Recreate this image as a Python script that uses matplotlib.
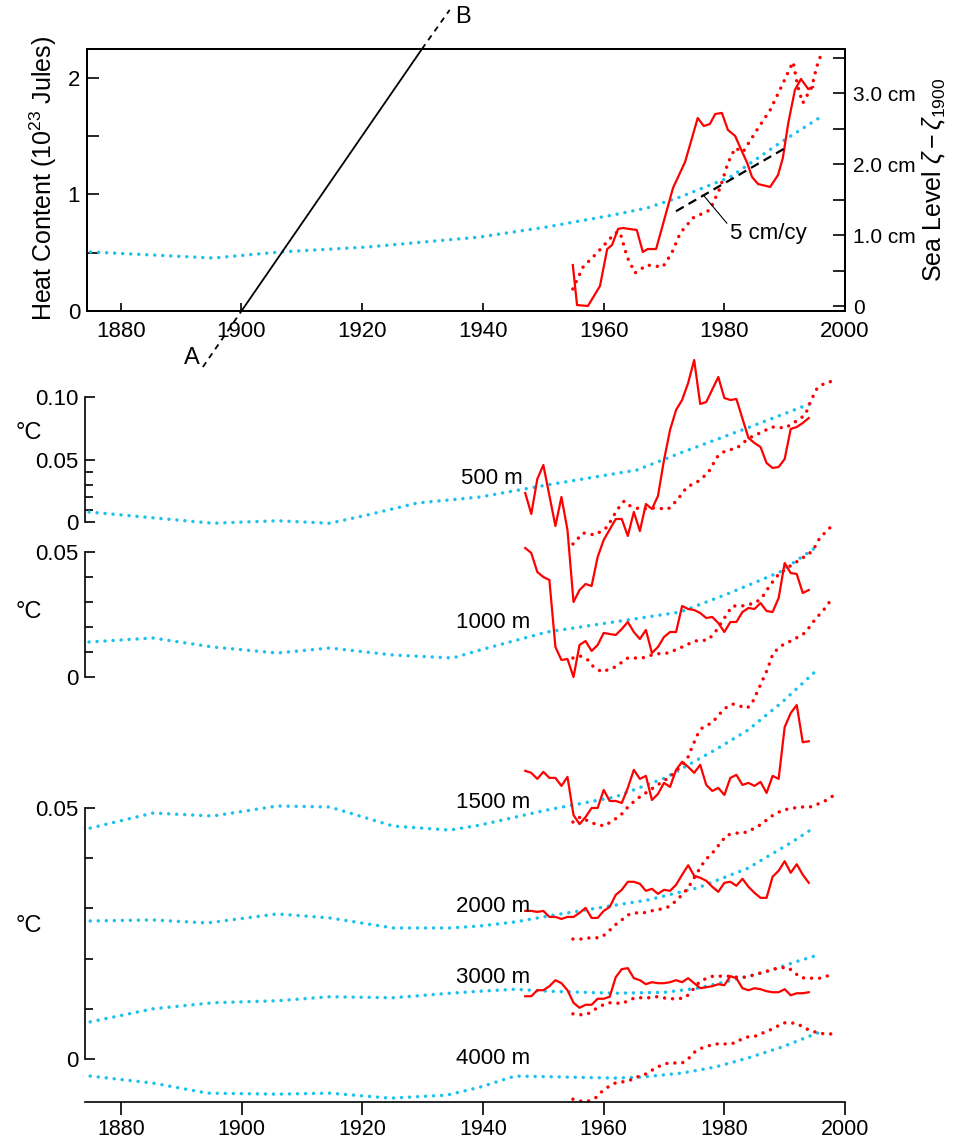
import matplotlib
matplotlib.use("Agg")
import matplotlib.pyplot as plt

plt.rcParams['font.family'] = ['Liberation Sans', 'DejaVu Sans']
plt.rcParams['mathtext.fontset'] = 'custom'
plt.rcParams['mathtext.rm'] = 'Liberation Sans'
plt.rcParams['mathtext.it'] = 'Liberation Sans:italic'
plt.rcParams['mathtext.sf'] = 'Liberation Sans'

RED = '#ff0000'
CYAN = '#19c1ef'

# top panel: heat content (10^23 J)
hc_model_yr = [1875.0, 1895.3, 1906.4, 1920.8, 1939.5, 1950.6, 1961.6, 1967.2, 1972.7, 1981.0, 1989.2, 1996.2]
hc_model = [0.506, 0.454, 0.506, 0.548, 0.634, 0.72, 0.823, 0.883, 0.977, 1.148, 1.44, 1.67]

hc_obs_yr = [1954.9, 1955.6, 1957.4, 1959.4, 1960.6, 1961.4, 1962.4, 1963.2, 1965.5, 1966.5,
             1967.3, 1968.7, 1971.5, 1973.5, 1975.6, 1976.6, 1977.6, 1978.5, 1979.6, 1980.6,
             1981.8, 1982.6, 1983.8, 1984.6, 1985.6, 1987.6, 1988.9, 1989.7, 1990.6, 1991.7,
             1992.7, 1993.9, 1994.7]
hc_obs = [0.394, 0.051, 0.043, 0.214, 0.531, 0.566, 0.703, 0.711, 0.694, 0.506,
          0.531, 0.531, 1.054, 1.277, 1.654, 1.585, 1.602, 1.688, 1.697, 1.551,
          1.5, 1.405, 1.268, 1.148, 1.088, 1.063, 1.165, 1.311, 1.611, 1.894,
          1.988, 1.902, 1.919]

hc_dot_yr = [1954.9, 1956.6, 1958.9, 1961.9, 1962.7, 1963.9, 1965.2, 1967.2, 1969.8, 1971.3,
             1972.7, 1974.8, 1977.6, 1979.3, 1980.6, 1981.8, 1983.1, 1985.4, 1987.6, 1989.6,
             1990.9, 1991.4, 1992.2, 1993.0, 1994.5, 1995.3, 1996.3]
hc_dot = [0.189, 0.377, 0.497, 0.668, 0.677, 0.463, 0.326, 0.394, 0.377, 0.497,
          0.668, 0.797, 0.865, 1.054, 1.268, 1.397, 1.362, 1.551, 1.722, 1.937,
          2.082, 2.134, 1.919, 1.782, 1.919, 2.091, 2.237]

# sea level trend (cm) and the A-B line (heat units)
trend_yr = [1972.0, 1990.1]
trend_cm = [1.34, 2.23]
ab_yr = [1893.6, 1900.0, 1929.9, 1934.5]
ab_val = [-0.48, 0.0, 2.245, 2.58]

# lower panels: temperature change (deg C)
obs_yr = list(range(1947, 1995))

c500_yr = [1874.7, 1895.2, 1905.9, 1914.6, 1920.8, 1929.1, 1939.5, 1950.6, 1965.5, 1972.7, 1983.8, 1995.0]
c500 = [0.008, -0.001, 0.001, -0.001, 0.0056, 0.0152, 0.02, 0.0296, 0.0416, 0.0552, 0.0752, 0.096]
o500_yr = [1947, 1948, 1949, 1950, 1952, 1953, 1954, 1955, 1956, 1957, 1958, 1959, 1960,
           1962, 1963, 1964, 1965, 1966, 1967, 1968, 1969, 1970, 1971, 1972, 1973, 1974,
           1975, 1976, 1977, 1979, 1980, 1981, 1982, 1984, 1985, 1986, 1987, 1988, 1989,
           1990, 1991, 1992, 1993, 1994]
o500 = [0.0232, 0.0064, 0.0344, 0.0456, -0.0032, 0.02, -0.0064, -0.064, -0.0544, -0.0496,
        -0.0512, -0.028, -0.0144, 0.0024, 0.0024, -0.0112, 0.008, -0.0072, 0.0144, 0.0104,
        0.0208, 0.0496, 0.0736, 0.0896, 0.0976, 0.1112, 0.1296, 0.0944, 0.096, 0.116,
        0.0992, 0.0976, 0.0984, 0.0672, 0.0632, 0.06, 0.0472, 0.0432, 0.044, 0.0504,
        0.0744, 0.076, 0.0792, 0.0832]
d500_yr = [1954.9, 1956.6, 1958.6, 1960.6, 1962.2, 1963.4, 1964.4, 1966.0, 1968.2, 1970.7,
           1972.2, 1973.8, 1975.5, 1977.3, 1978.8, 1980.1, 1982.1, 1984.1, 1985.9, 1987.9,
           1990.1, 1991.7, 1993.4, 1994.4, 1995.4, 1996.7, 1998.0]
d500 = [-0.0176, -0.0088, -0.0104, -0.004, 0.0096, 0.0168, 0.0128, 0.0104, 0.0112, 0.0104,
        0.0176, 0.028, 0.032, 0.0392, 0.052, 0.0568, 0.0592, 0.0672, 0.0712, 0.076,
        0.0752, 0.08, 0.0856, 0.0976, 0.1072, 0.1112, 0.1128]

c1000_yr = [1874.7, 1885.3, 1895.2, 1905.9, 1914.6, 1925.1, 1935.0, 1939.5, 1950.6, 1963.9,
            1972.7, 1980.9, 1989.2, 1995.0]
c1000 = [0.014, 0.0156, 0.012, 0.0096, 0.0116, 0.0088, 0.0076, 0.0108, 0.018, 0.0228,
         0.026, 0.0336, 0.042, 0.0516]
o1000_yr = [1947, 1948, 1949, 1950, 1951, 1952, 1953, 1954, 1955, 1956, 1957, 1958, 1959, 1960,
            1962, 1963, 1964, 1965, 1966, 1967, 1968, 1969, 1970, 1971, 1972, 1973, 1974,
            1975, 1976, 1977, 1978, 1979, 1980, 1981, 1982, 1983, 1984, 1985, 1986, 1987,
            1988, 1989, 1990, 1991, 1992, 1993, 1994]
o1000 = [0.0516, 0.0496, 0.042, 0.04, 0.0388, 0.012, 0.0068, 0.0072, 0.0, 0.0128,
         0.0144, 0.0104, 0.0128, 0.0176, 0.0168, 0.0192, 0.022, 0.018, 0.0152, 0.0188,
         0.0096, 0.012, 0.016, 0.018, 0.018, 0.0284, 0.0272, 0.0268, 0.0256, 0.0236,
         0.024, 0.0216, 0.018, 0.022, 0.022, 0.026, 0.0276, 0.0272, 0.0296, 0.0264,
         0.026, 0.0316, 0.0456, 0.0416, 0.0412, 0.0336, 0.0348]
d1000_yr = [1954.9, 1956.1, 1957.4, 1958.2, 1959.7, 1961.9, 1964.0, 1966.4, 1968.5, 1970.7,
            1973.0, 1975.1, 1977.3, 1978.5, 1979.8, 1981.3, 1982.9, 1985.1, 1986.2, 1987.6,
            1988.9, 1990.4, 1991.7, 1992.9, 1993.9, 1995.0, 1995.9, 1997.2, 1998.0]
d1000 = [0.0076, 0.0084, 0.0068, 0.0044, 0.002, 0.004, 0.0076, 0.0076, 0.0092, 0.0096,
         0.012, 0.0144, 0.0148, 0.018, 0.0228, 0.0284, 0.0284, 0.0296, 0.0316, 0.0368,
         0.0408, 0.0436, 0.0456, 0.0476, 0.0488, 0.052, 0.056, 0.0588, 0.0612]

c1500_yr = [1874.9, 1885.3, 1895.2, 1905.9, 1914.6, 1925.1, 1934.5, 1939.5, 1950.6, 1961.9,
            1970.2, 1978.5, 1983.9, 1989.6, 1995.0]
c1500 = [0.046, 0.049, 0.0484, 0.0504, 0.0502, 0.0464, 0.0456, 0.0466, 0.0496, 0.0522,
         0.056, 0.0616, 0.0655, 0.0711, 0.0771]
o1500 = [0.0574, 0.057, 0.0558, 0.0572, 0.056, 0.056, 0.0544, 0.0562,
         0.0486, 0.0468, 0.0482, 0.05, 0.05, 0.0536, 0.0514, 0.0514, 0.051, 0.054,
         0.0576, 0.0558, 0.0564, 0.0516, 0.0528, 0.055, 0.0542, 0.0576, 0.0592, 0.0582,
         0.057, 0.0586, 0.0546, 0.0534, 0.054, 0.0526, 0.056, 0.0566, 0.0546, 0.055,
         0.0544, 0.0552, 0.053, 0.0564, 0.0558, 0.0661, 0.0689, 0.0705, 0.0631, 0.0633]
d1500_yr = [1954.9, 1956.1, 1958.1, 1960.1, 1961.9, 1963.2, 1964.0, 1965.5, 1967.7, 1969.7,
            1971.0, 1972.2, 1973.8, 1974.6, 1975.5, 1976.3, 1978.1, 1979.0, 1980.4, 1981.4,
            1982.6, 1983.8, 1984.6, 1985.6, 1987.1, 1988.1, 1989.7, 1991.4, 1993.4, 1995.0,
            1996.7, 1998.0]
d1500 = [0.0472, 0.0482, 0.047, 0.0464, 0.0478, 0.049, 0.0502, 0.0518, 0.0536, 0.0552,
         0.0562, 0.0576, 0.0596, 0.062, 0.0645, 0.0659, 0.0671, 0.0685, 0.0701, 0.0707,
         0.0703, 0.0699, 0.0709, 0.0735, 0.0775, 0.0809, 0.0825, 0.0835, 0.0849, 0.0875,
         0.0898, 0.092]

c2000_yr = [1874.9, 1885.3, 1894.3, 1905.9, 1914.6, 1925.1, 1934.5, 1939.5, 1945.3, 1951.9,
            1959.1, 1967.4, 1975.6, 1983.9, 1991.2, 1995.0]
c2000 = [0.0275, 0.0277, 0.0271, 0.0289, 0.0281, 0.0261, 0.0261, 0.0265, 0.0273, 0.0287,
         0.0301, 0.0317, 0.0341, 0.038, 0.0432, 0.0462]
o2000 = [0.0295, 0.0295, 0.0293, 0.0295, 0.0283, 0.0283, 0.0279, 0.0283,
         0.0283, 0.0291, 0.0301, 0.0281, 0.0281, 0.0295, 0.0303, 0.0327, 0.0337, 0.0353,
         0.0353, 0.0349, 0.0335, 0.0339, 0.0329, 0.0337, 0.0335, 0.0347, 0.0367, 0.0386,
         0.0365, 0.0361, 0.0355, 0.0343, 0.0333, 0.0351, 0.0353, 0.0345, 0.0359, 0.0343,
         0.0331, 0.0321, 0.0321, 0.0363, 0.0375, 0.0394, 0.0371, 0.0388, 0.0367, 0.0351]
d2000_yr = [1954.9, 1956.4, 1957.4, 1958.6, 1959.7, 1960.7, 1961.9, 1963.0, 1964.0, 1965.2,
            1966.5, 1967.4, 1968.5, 1969.7, 1970.7, 1971.8, 1973.0, 1974.0, 1974.8, 1975.6,
            1976.8, 1978.0, 1978.8, 1980.4, 1982.1, 1983.8, 1985.9, 1988.1, 1989.7, 1992.5,
            1994.2, 1996.4, 1998.0]
d2000 = [0.0239, 0.0239, 0.0241, 0.0241, 0.0243, 0.0253, 0.0267, 0.0277, 0.0287, 0.0291,
         0.0291, 0.0293, 0.0297, 0.0299, 0.0303, 0.0313, 0.0327, 0.0341, 0.0357, 0.0373,
         0.0396, 0.041, 0.0422, 0.0446, 0.045, 0.0452, 0.0466, 0.0486, 0.0496, 0.0502,
         0.0502, 0.0512, 0.0524]

c3000_yr = [1874.9, 1885.3, 1895.2, 1905.9, 1914.6, 1925.1, 1934.5, 1939.5, 1945.3, 1950.8,
            1961.9, 1970.2, 1975.6, 1981.3, 1986.7, 1992.2, 1995.5]
c3000 = [0.0074, 0.01, 0.0112, 0.0116, 0.0124, 0.0122, 0.0131, 0.0135, 0.0139, 0.0135,
         0.0131, 0.0133, 0.0141, 0.0157, 0.0173, 0.0195, 0.0207]
o3000 = [0.0125, 0.0125, 0.0137, 0.0137, 0.0145, 0.0157, 0.0151, 0.0137,
         0.0112, 0.0102, 0.0108, 0.0108, 0.012, 0.012, 0.0124, 0.0163, 0.0179, 0.0181,
         0.0161, 0.0157, 0.0149, 0.0153, 0.0151, 0.0151, 0.0153, 0.0157, 0.0153, 0.0161,
         0.0151, 0.0141, 0.0143, 0.0145, 0.0149, 0.0147, 0.0165, 0.0161, 0.0141, 0.0137,
         0.0141, 0.0139, 0.0135, 0.0133, 0.0133, 0.0139, 0.0127, 0.0131, 0.0131, 0.0133]
d3000_yr = [1954.9, 1956.1, 1957.4, 1958.4, 1959.6, 1960.7, 1961.9, 1963.0, 1964.0, 1965.2,
            1966.4, 1967.7, 1968.8, 1969.8, 1971.0, 1972.3, 1973.5, 1974.3, 1975.1, 1976.0,
            1977.1, 1978.1, 1979.3, 1980.6, 1982.1, 1983.4, 1984.8, 1985.9, 1987.1, 1988.1,
            1989.2, 1990.4, 1991.4, 1992.5, 1993.4, 1994.5, 1995.9, 1997.0, 1998.0]
d3000 = [0.009, 0.0088, 0.009, 0.0098, 0.0106, 0.0112, 0.0112, 0.011, 0.0116, 0.0122,
         0.0122, 0.0122, 0.0124, 0.0122, 0.012, 0.012, 0.0122, 0.0131, 0.0143, 0.0155,
         0.0161, 0.0165, 0.0165, 0.0165, 0.0163, 0.0163, 0.0167, 0.0171, 0.0175, 0.0179,
         0.0181, 0.0183, 0.0175, 0.0163, 0.0161, 0.0161, 0.0161, 0.0165, 0.0173]

c4000_yr = [1874.9, 1885.3, 1894.3, 1905.9, 1914.6, 1924.6, 1934.0, 1939.5, 1945.3, 1953.6,
            1961.9, 1966.4, 1973.0, 1978.5, 1983.9, 1989.6, 1995.5]
c4000 = [-0.0034, -0.0048, -0.0068, -0.007, -0.0068, -0.0078, -0.0072, -0.0056, -0.0034, -0.0036,
         -0.0038, -0.0036, -0.0028, -0.0016, 0.0002, 0.0024, 0.0052]
d4000_yr = [1954.9, 1956.1, 1957.4, 1958.6, 1959.6, 1960.7, 1961.9, 1963.0, 1964.4, 1965.5,
            1966.5, 1967.4, 1968.5, 1969.7, 1970.7, 1971.8, 1973.0, 1974.0, 1975.1, 1976.3,
            1977.3, 1978.5, 1979.7, 1980.6, 1981.8, 1982.9, 1983.9, 1985.3, 1986.4, 1987.6,
            1988.9, 1989.9, 1991.1, 1992.2, 1993.2, 1994.5, 1995.5, 1996.7, 1998.0]
d4000 = [-0.008, -0.0084, -0.0084, -0.0078, -0.0066, -0.0056, -0.0048, -0.0046, -0.0042, -0.0036,
         -0.0032, -0.0028, -0.0018, -0.0012, -0.0008, -0.0008, -0.0008, 0.0, 0.0014, 0.0022,
         0.0026, 0.003, 0.003, 0.003, 0.0032, 0.004, 0.0044, 0.0046, 0.0052, 0.0058,
         0.0066, 0.0072, 0.0072, 0.007, 0.0062, 0.0056, 0.0052, 0.005, 0.005]

years = [1880, 1900, 1920, 1940, 1960, 1980, 2000]

# figure in pixel layout
W, H = 956, 1142
fig = plt.figure(figsize=(W / 100, H / 100), dpi=100)


def box(l, t, r, b):
    return [l / W, 1 - b / H, (r - l) / W, (b - t) / H]


dot = dict(ls=(0, (0.01, 2.3)), lw=2.5, dash_capstyle='round')
FS = 16

#Top panel
ax = fig.add_axes(box(87, 49, 845, 311))
ax.set_xlim(1874.4, 2000)
ax.set_ylim(0, 2.245)
ax.plot(hc_model_yr, hc_model, color=CYAN, **dot)
ax.plot(hc_dot_yr, hc_dot, color=RED, **dot)
ax.plot(hc_obs_yr, hc_obs, color=RED, lw=1.6)
ax.plot(ab_yr[:2], ab_val[:2], color='k', lw=1.3, ls=(0, (3.2, 2.8)), clip_on=False)
ax.plot(ab_yr[1:3], ab_val[1:3], color='k', lw=1.3)
ax.plot(ab_yr[2:], ab_val[2:], color='k', lw=1.3, ls=(0, (3.2, 2.8)), clip_on=False)
ax.text(1891.8, -0.40, 'A', fontsize=FS + 1, ha='center', va='center', clip_on=False)
ax.text(1936.7, 2.52, 'B', fontsize=FS + 1, ha='center', va='center', clip_on=False)

ax.set_xticks(years)
ax.set_yticks([0, 0.5, 1, 1.5, 2], ['0', '', '1', '', '2'])
ax.tick_params(axis='y', direction='in', length=8.5, width=1.2, labelsize=FS, pad=5)
ax.tick_params(axis='x', direction='in', length=5.5, width=1.2, labelsize=FS, pad=7)

ax2 = ax.twinx()
ax2.set_ylim(-0.065, 3.625)
ax2.plot(trend_yr, trend_cm, color='k', lw=1.6, ls=(0, (4, 2.5)))
ax2.annotate('5 cm/cy', xy=(1976.5, 1.57), xytext=(1980.9, 1.02), ha='left', va='center',
             fontsize=FS,
             arrowprops=dict(arrowstyle='-', lw=0.8, color='k', shrinkA=0, shrinkB=0,
                             relpos=(0, 0.85)))
ax2.set_yticks([0, 0.5, 1, 1.5, 2, 2.5, 3, 3.5],
               ['0', '', '1.0 cm', '', '2.0 cm', '', '3.0 cm', ''])
ax2.tick_params(axis='y', direction='in', length=8.5, width=1.2, labelsize=15, pad=5.5)
for a in (ax, ax2):
    for s in a.spines.values():
        s.set_linewidth(1.4)

fig.text(43 / W, 1 - 179 / H, r'Heat Content (10$^{23}$ Jules)', fontsize=18,
         rotation=90, ha='center', va='center')
fig.text(934 / W, 1 - 180 / H, r'Sea Level $\zeta - \zeta_{1900}$', fontsize=18,
         rotation=90, ha='center', va='center')

#Lower panels, overlaid axes with their own scales
BOT = box(85, 355, 845, 1102)


def depth_axes(zero_px, px_per_deg, top):
    a = fig.add_axes(BOT)
    a.patch.set_visible(False)
    a.set_xlim(1874.03, 2000)
    a.set_ylim((zero_px - 1102) / px_per_deg, (zero_px - 355) / px_per_deg)
    for s in ['top', 'right', 'bottom']:
        a.spines[s].set_visible(False)
    a.spines['left'].set_bounds(0, top)
    a.spines['left'].set_linewidth(1.2)
    a.tick_params(axis='x', bottom=False, labelbottom=False)
    a.set_yticks([0.01, 0.02, 0.03, 0.04], minor=True)
    a.tick_params(axis='y', which='major', direction='in', length=7.5, width=1.2,
                  labelsize=FS, pad=4.5)
    a.tick_params(axis='y', which='minor', direction='in', length=5.5, width=1.2)
    return a


a500 = depth_axes(522, 1250, 0.10)
a500.set_yticks([0, 0.05, 0.10], ['0', '0.05', '0.10'])
a500.plot(c500_yr, c500, color=CYAN, **dot)
a500.plot(d500_yr, d500, color=RED, **dot)
a500.plot(o500_yr, o500, color=RED, lw=1.6)
a500.text(1946.6, 0.0352, '500 m', fontsize=FS, ha='right', va='center')

a1000 = depth_axes(677, 2500, 0.05)
a1000.set_yticks([0, 0.05], ['0', '0.05'])
a1000.plot(c1000_yr, c1000, color=CYAN, **dot)
a1000.plot(d1000_yr, d1000, color=RED, **dot)
a1000.plot(o1000_yr, o1000, color=RED, lw=1.6)
a1000.text(1947.8, 0.0216, '1000 m', fontsize=FS, ha='right', va='center')

adeep = depth_axes(1059, 5020, 0.05)
adeep.set_yticks([0, 0.05], ['0', '0.05'])
adeep.plot(c1500_yr, c1500, color=CYAN, **dot)
adeep.plot(d1500_yr, d1500, color=RED, **dot)
adeep.plot(obs_yr, o1500, color=RED, lw=1.6)
adeep.plot(c2000_yr, c2000, color=CYAN, **dot)
adeep.plot(d2000_yr, d2000, color=RED, **dot)
adeep.plot(obs_yr, o2000, color=RED, lw=1.6)
adeep.plot(c3000_yr, c3000, color=CYAN, **dot)
adeep.plot(d3000_yr, d3000, color=RED, **dot)
adeep.plot(obs_yr, o3000, color=RED, lw=1.6)
adeep.plot(c4000_yr, c4000, color=CYAN, **dot)
adeep.plot(d4000_yr, d4000, color=RED, **dot)
adeep.text(1947.8, 0.051, '1500 m', fontsize=FS, ha='right', va='center')
adeep.text(1947.8, 0.0303, '2000 m', fontsize=FS, ha='right', va='center')
adeep.text(1947.8, 0.0163, '3000 m', fontsize=FS, ha='right', va='center')
adeep.text(1947.8, 0.0, '4000 m', fontsize=FS, ha='right', va='center')

adeep.spines['bottom'].set_visible(True)
adeep.spines['bottom'].set_linewidth(1.2)
adeep.set_xticks(years)
adeep.tick_params(axis='x', bottom=True, labelbottom=True, direction='out', length=9,
                  width=1.2, labelsize=15.5, pad=3.5)

for y in (433, 612, 926):
    fig.text(29 / W, 1 - y / H, '°C', fontsize=17, ha='center', va='center')

fig.savefig('out.png', dpi=100)
